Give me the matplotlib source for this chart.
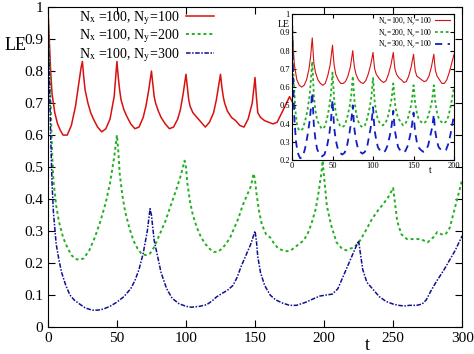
import matplotlib
matplotlib.use("Agg")
import matplotlib.pyplot as plt

# ---- main panel data (t, LE) ----
t_red = [0, 1, 2, 3, 5, 7, 9, 11, 14, 17, 20, 22, 24, 25, 26, 27, 29, 31, 33, 36, 39, 42, 45, 48,
         50, 51, 52, 53, 55, 57, 60, 63, 66, 69, 71, 73, 75, 76, 77, 78, 80, 82, 85, 88, 91, 94,
         96, 98, 100, 101, 102, 103, 105, 108, 111, 114, 117, 120, 122, 125, 126, 127, 128, 130,
         133, 136, 139, 142, 145, 148, 150, 151, 152, 154, 157, 160, 163, 166, 170, 175, 180, 190]
le_red = [1.0, 0.9, 0.80, 0.73, 0.67, 0.635, 0.615, 0.60, 0.60, 0.63, 0.69, 0.75, 0.81, 0.83,
          0.78, 0.74, 0.70, 0.67, 0.65, 0.625, 0.61, 0.62, 0.65, 0.72, 0.83, 0.78, 0.74, 0.71,
          0.68, 0.66, 0.635, 0.62, 0.625, 0.655, 0.69, 0.74, 0.80, 0.76, 0.72, 0.70, 0.675, 0.655,
          0.635, 0.62, 0.625, 0.65, 0.68, 0.73, 0.79, 0.75, 0.71, 0.69, 0.67, 0.655, 0.64, 0.625,
          0.64, 0.67, 0.71, 0.79, 0.75, 0.72, 0.70, 0.675, 0.655, 0.645, 0.63, 0.625, 0.65, 0.70,
          0.78, 0.72, 0.67, 0.655, 0.645, 0.64, 0.635, 0.64, 0.675, 0.72, 0.68, 0.64]

t_green = [0, 1, 2, 3, 4, 6, 8, 11, 14, 17, 20, 23, 26, 30, 34, 38, 42, 45, 48, 50, 51, 52, 54,
           56, 59, 62, 65, 68, 71, 74, 77, 81, 85, 89, 93, 96, 99, 100, 101, 103, 105, 108, 111,
           114, 117, 120, 123, 126, 129, 132, 135, 138, 141, 144, 147, 149, 150, 151, 153, 155,
           158, 161, 164, 167, 170, 173, 176, 179, 182, 185, 188, 191, 194, 196, 198, 199, 200,
           202, 205, 209, 213, 216, 219, 222, 226, 230, 235, 240, 243, 247, 250, 251, 253, 256,
           260, 265, 270, 275, 279, 282, 285, 288, 291, 294, 297, 300]
le_green = [1.0, 0.85, 0.70, 0.55, 0.46, 0.38, 0.33, 0.28, 0.25, 0.225, 0.213, 0.21, 0.215, 0.24,
            0.28, 0.33, 0.39, 0.45, 0.53, 0.60, 0.55, 0.48, 0.41, 0.36, 0.31, 0.27, 0.245, 0.228,
            0.225, 0.23, 0.25, 0.29, 0.33, 0.38, 0.43, 0.47, 0.52, 0.50, 0.45, 0.39, 0.35, 0.31,
            0.28, 0.26, 0.245, 0.235, 0.235, 0.245, 0.26, 0.28, 0.31, 0.34, 0.38, 0.41, 0.44, 0.48,
            0.46, 0.42, 0.36, 0.32, 0.29, 0.28, 0.26, 0.245, 0.24, 0.237, 0.24, 0.25, 0.26, 0.27,
            0.29, 0.325, 0.37, 0.42, 0.48, 0.52, 0.47, 0.38, 0.32, 0.265, 0.245, 0.24, 0.245, 0.25,
            0.27, 0.30, 0.34, 0.37, 0.385, 0.41, 0.435, 0.40, 0.33, 0.29, 0.275, 0.275, 0.275,
            0.265, 0.28, 0.297, 0.29, 0.29, 0.31, 0.36, 0.41, 0.46]

t_blue = [0, 1, 2, 3, 4, 6, 8, 10, 13, 16, 19, 23, 27, 32, 36, 40, 45, 50, 55, 60, 63, 66, 69,
          72, 74, 75, 76, 77, 79, 82, 86, 90, 95, 100, 104, 110, 115, 119, 122, 126, 130, 134,
          137, 140, 144, 147, 150, 151, 152, 154, 157, 161, 165, 170, 175, 180, 187, 192, 197,
          201, 206, 210, 213, 217, 220, 223, 225, 226, 227, 228, 231, 235, 240, 245, 250, 254,
          258, 262, 267, 271, 274, 277, 281, 284, 287, 291, 295, 300]
le_blue = [1.0, 0.8, 0.6, 0.45, 0.36, 0.26, 0.21, 0.17, 0.13, 0.10, 0.085, 0.072, 0.06, 0.053,
           0.053, 0.056, 0.065, 0.078, 0.095, 0.12, 0.145, 0.18, 0.23, 0.30, 0.37, 0.35, 0.31,
           0.27, 0.23, 0.17, 0.12, 0.09, 0.073, 0.065, 0.062, 0.065, 0.07, 0.082, 0.094, 0.105,
           0.115, 0.13, 0.155, 0.19, 0.23, 0.26, 0.30, 0.27, 0.22, 0.17, 0.13, 0.10, 0.085, 0.075,
           0.068, 0.068, 0.078, 0.088, 0.097, 0.10, 0.103, 0.12, 0.15, 0.19, 0.22, 0.25, 0.27,
           0.24, 0.21, 0.18, 0.14, 0.12, 0.095, 0.08, 0.072, 0.068, 0.066, 0.068, 0.068, 0.072,
           0.085, 0.11, 0.14, 0.16, 0.18, 0.21, 0.24, 0.285]

# ---- inset data ----
ti_red = [0, 1, 3, 6, 9, 12, 15, 18, 21, 23, 25, 26, 27, 29, 32, 35, 38, 41, 44, 47, 50, 51, 52,
          54, 57, 60, 63, 66, 69, 72, 75, 76, 77, 79, 82, 85, 88, 91, 94, 97, 100, 101, 102, 104,
          107, 110, 113, 116, 119, 122, 125, 126, 127, 129, 132, 135, 138, 141, 144, 147, 150,
          151, 152, 154, 157, 160, 163, 166, 169, 172, 175, 176, 177, 179, 182, 185, 188, 191,
          194, 197, 200]
lei_red = [1.0, 0.85, 0.72, 0.64, 0.61, 0.60, 0.61, 0.64, 0.70, 0.77, 0.87, 0.80, 0.73, 0.68,
           0.64, 0.62, 0.61, 0.62, 0.66, 0.72, 0.83, 0.77, 0.72, 0.67, 0.64, 0.62, 0.62, 0.63,
           0.66, 0.71, 0.80, 0.75, 0.71, 0.67, 0.64, 0.625, 0.62, 0.635, 0.67, 0.72, 0.79, 0.74,
           0.70, 0.67, 0.65, 0.635, 0.625, 0.635, 0.67, 0.72, 0.79, 0.74, 0.70, 0.67, 0.65, 0.64,
           0.625, 0.63, 0.66, 0.71, 0.78, 0.73, 0.69, 0.66, 0.65, 0.64, 0.63, 0.635, 0.66, 0.71,
           0.78, 0.73, 0.69, 0.66, 0.64, 0.62, 0.62, 0.64, 0.68, 0.73, 0.78]

ti_green = [0, 1, 2, 4, 6, 8, 10, 13, 16, 19, 22, 25, 26, 27, 29, 31, 34, 37, 40, 43, 46, 48, 50,
            51, 52, 54, 56, 59, 62, 65, 68, 71, 73, 75, 76, 77, 79, 81, 84, 87, 90, 93, 96, 98,
            100, 101, 102, 104, 106, 109, 112, 115, 118, 121, 123, 125, 126, 127, 129, 131, 134,
            137, 140, 143, 146, 148, 150, 151, 152, 154, 156, 159, 162, 165, 168, 171, 173, 175,
            176, 177, 179, 181, 184, 187, 190, 193, 196, 198, 200]
lei_green = [1.0, 0.8, 0.65, 0.48, 0.40, 0.37, 0.36, 0.37, 0.41, 0.47, 0.56, 0.74, 0.65, 0.55,
             0.47, 0.42, 0.39, 0.37, 0.38, 0.42, 0.49, 0.56, 0.68, 0.61, 0.53, 0.46, 0.42, 0.39,
             0.38, 0.39, 0.43, 0.49, 0.55, 0.66, 0.60, 0.53, 0.46, 0.42, 0.39, 0.38, 0.39, 0.43,
             0.49, 0.55, 0.65, 0.59, 0.52, 0.46, 0.42, 0.40, 0.39, 0.40, 0.43, 0.49, 0.54, 0.62,
             0.57, 0.51, 0.46, 0.43, 0.41, 0.39, 0.40, 0.43, 0.48, 0.53, 0.61, 0.56, 0.51, 0.46,
             0.43, 0.41, 0.40, 0.41, 0.44, 0.49, 0.53, 0.61, 0.56, 0.51, 0.46, 0.43, 0.41, 0.40,
             0.41, 0.44, 0.50, 0.55, 0.60]

ti_blue = [0, 1, 2, 3, 5, 7, 10, 13, 16, 19, 22, 25, 26, 27, 29, 31, 34, 37, 40, 43, 46, 48, 50,
           51, 52, 54, 56, 59, 62, 65, 68, 71, 73, 75, 76, 77, 79, 81, 84, 87, 90, 93, 96, 98,
           100, 101, 102, 104, 106, 109, 112, 115, 118, 121, 123, 125, 126, 127, 129, 131, 134,
           137, 140, 143, 146, 148, 150, 151, 152, 154, 156, 159, 162, 165, 168, 171, 173, 175,
           176, 177, 179, 181, 184, 187, 190, 193, 196, 198, 200]
lei_blue = [1.0, 0.75, 0.55, 0.42, 0.30, 0.24, 0.21, 0.215, 0.26, 0.33, 0.42, 0.57, 0.48, 0.39,
            0.31, 0.26, 0.23, 0.22, 0.23, 0.27, 0.34, 0.41, 0.53, 0.45, 0.38, 0.31, 0.27, 0.24,
            0.23, 0.24, 0.28, 0.35, 0.41, 0.50, 0.43, 0.37, 0.31, 0.27, 0.245, 0.235, 0.245, 0.28,
            0.35, 0.40, 0.49, 0.42, 0.36, 0.31, 0.27, 0.25, 0.24, 0.25, 0.28, 0.34, 0.39, 0.47,
            0.41, 0.36, 0.31, 0.27, 0.25, 0.24, 0.25, 0.28, 0.34, 0.39, 0.46, 0.40, 0.35, 0.30,
            0.27, 0.255, 0.245, 0.25, 0.28, 0.34, 0.38, 0.45, 0.39, 0.35, 0.30, 0.27, 0.255, 0.25,
            0.255, 0.29, 0.35, 0.40, 0.45]

main_labels = [r"N$_{\rm x}$ =100, N$_{\rm y}$=100", r"N$_{\rm x}$ =100, N$_{\rm y}$=200",
               r"N$_{\rm x}$ =100, N$_{\rm y}$=300"]
inset_labels = [r"N$_{\rm x}$=100, N$_{\rm y}$=100", r"N$_{\rm x}$=200, N$_{\rm y}$=100",
                r"N$_{\rm x}$=300, N$_{\rm y}$=100"]
yticks = [0, 0.1, 0.2, 0.3, 0.4, 0.5, 0.6, 0.7, 0.8, 0.9, 1]
ytick_labels = ["0", "0.1", "0.2", "0.3", "0.4", "0.5", "0.6", "0.7", "0.8", "0.9", "1"]
inset_yticks = [0.2, 0.3, 0.4, 0.5, 0.6, 0.7, 0.8, 0.9, 1]
inset_ylabels = ["0.2", "0.3", "0.4", "0.5", "0.6", "0.7", "0.8", "0.9", "1"]

plt.rcParams["font.family"] = ["Liberation Serif", "DejaVu Serif"]
plt.rcParams["mathtext.fontset"] = "stix"

RED = "#d81010"
GREEN = "#20b020"
BLUE = "#101090"
BLUE2 = "#1020c0"

fig = plt.figure(figsize=(4.74, 3.54), dpi=100)
ax = fig.add_axes([0.101, 0.076, 0.874, 0.904])
ax.plot(t_red, le_red, color=RED, lw=1.1, label=main_labels[0])
ax.plot(t_green, le_green, color=GREEN, lw=1.4, ls=(0, (1.5, 1.5)), label=main_labels[1])
ax.plot(t_blue, le_blue, color=BLUE, lw=1.1, ls=(0, (3, 1, 1, 1)), label=main_labels[2])
ax.set_xlim(0, 300)
ax.set_ylim(0, 1)
ax.set_xticks([0, 50, 100, 150, 200, 250, 300])
ax.set_yticks(yticks)
ax.set_yticklabels(ytick_labels)
ax.tick_params(direction="in", top=True, right=True, labelsize=11, length=5)
ax.text(-0.105, 0.88, "LE", transform=ax.transAxes, fontsize=13, va="center")
ax.text(0.765, -0.058, "t", transform=ax.transAxes, fontsize=13, va="center")
ax.legend(loc="upper left", bbox_to_anchor=(0.055, 1.02), frameon=False, fontsize=10,
          markerfirst=False, handlelength=2.0, labelspacing=0.05, borderaxespad=0.2,
          handletextpad=0.5)

ins = fig.add_axes([0.616, 0.548, 0.342, 0.412])
ins.plot(ti_red, lei_red, color=RED, lw=0.8, label=inset_labels[0])
ins.plot(ti_green, lei_green, color=GREEN, lw=1.3, ls=(0, (1.5, 1.5)), label=inset_labels[1])
ins.plot(ti_blue, lei_blue, color=BLUE2, lw=1.3, ls=(0, (4, 3)), label=inset_labels[2])
ins.set_xlim(0, 200)
ins.set_ylim(0.2, 1)
ins.set_xticks([0, 50, 100, 150, 200])
ins.set_yticks(inset_yticks)
ins.set_yticklabels(inset_ylabels)
ins.tick_params(direction="in", top=True, right=True, labelsize=6, length=3, pad=1.5)
ins.text(-0.09, 0.93, "LE", transform=ins.transAxes, fontsize=7, va="center")
ins.text(0.845, -0.07, "t", transform=ins.transAxes, fontsize=7, va="center")
ins.legend(loc="upper right", bbox_to_anchor=(1.0, 1.02), frameon=False, fontsize=5.5,
           markerfirst=False, handlelength=2.0, labelspacing=0.0, borderaxespad=0.1,
           handletextpad=0.3)

fig.savefig("out.png", dpi=100)
